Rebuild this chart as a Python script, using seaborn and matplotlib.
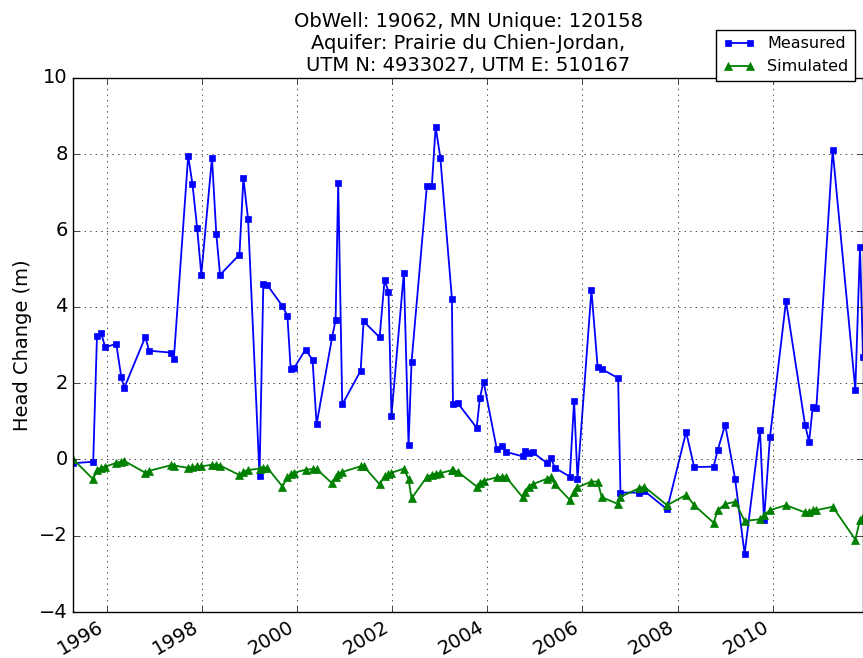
import pandas as pd
import seaborn as sns
import matplotlib
matplotlib.use('Agg')
import matplotlib.pyplot as plt

# observation dates (shared by both series)
dates = ['1995-04-20', '1995-09-20', '1995-10-19', '1995-11-21', '1995-12-21',
         '1996-03-15', '1996-04-23', '1996-05-16', '1996-10-24', '1996-11-22',
         '1997-05-11', '1997-05-31', '1997-09-18', '1997-10-21', '1997-11-26',
         '1997-12-28', '1998-03-20', '1998-04-22', '1998-05-21', '1998-10-17',
         '1998-11-16', '1998-12-22', '1999-03-20', '1999-04-18', '1999-05-19',
         '1999-09-12', '1999-10-20', '1999-11-14', '1999-12-11', '2000-03-07',
         '2000-04-30', '2000-05-31', '2000-09-28', '2000-10-24', '2000-11-13',
         '2000-12-14', '2001-05-04', '2001-05-27', '2001-09-27', '2001-11-04',
         '2001-12-04', '2001-12-27', '2002-04-01', '2002-05-07', '2002-05-30',
         '2002-09-25', '2002-11-02', '2002-12-01', '2003-01-06', '2003-04-05',
         '2003-04-13', '2003-05-19', '2003-10-12', '2003-11-06', '2003-12-04',
         '2004-03-14', '2004-04-23', '2004-05-22', '2004-09-28', '2004-10-18',
         '2004-11-13', '2004-12-14', '2005-04-02', '2005-05-03', '2005-06-03',
         '2005-09-26', '2005-10-29', '2005-11-24', '2006-03-11', '2006-04-28',
         '2006-05-29', '2006-10-02', '2006-10-20', '2007-03-09', '2007-04-19',
         '2007-10-13', '2008-03-07', '2008-05-08', '2008-10-04', '2008-11-06',
         '2009-01-01', '2009-03-18', '2009-05-30', '2009-09-25', '2009-10-26',
         '2009-12-11', '2010-04-13', '2010-09-06', '2010-10-07', '2010-11-04',
         '2010-12-02', '2011-04-06', '2011-09-27', '2011-11-02', '2011-11-25']

measured = [-0.10, -0.06, 3.24, 3.31, 2.94, 3.03, 2.15, 1.88, 3.21, 2.85,
            2.80, 2.62, 7.96, 7.22, 6.07, 4.84, 7.91, 5.91, 4.84, 5.37,
            7.38, 6.30, -0.43, 4.60, 4.57, 4.02, 3.76, 2.38, 2.40, 2.88,
            2.61, 0.92, 3.22, 3.65, 7.25, 1.44, 2.32, 3.62, 3.20, 4.70,
            4.40, 1.15, 4.90, 0.38, 2.55, 7.18, 7.18, 8.72, 7.91, 4.21,
            1.44, 1.48, 0.83, 1.62, 2.04, 0.28, 0.36, 0.20, 0.08, 0.23,
            0.16, 0.19, -0.09, 0.05, -0.22, -0.45, 1.54, -0.52, 4.44, 2.41,
            2.37, 2.13, -0.87, -0.87, -0.82, -1.31, 0.72, -0.20, -0.19, 0.26,
            0.91, -0.51, -2.48, 0.78, -1.59, 0.59, 4.15, 0.91, 0.46, 1.37,
            1.36, 8.11, 1.82, 5.58, 2.69]

simulated = [0.00, -0.52, -0.28, -0.22, -0.19, -0.09, -0.06, -0.04, -0.35, -0.30,
             -0.15, -0.16, -0.22, -0.20, -0.18, -0.18, -0.14, -0.14, -0.16, -0.41,
             -0.32, -0.28, -0.24, -0.22, -0.22, -0.71, -0.47, -0.39, -0.35, -0.27,
             -0.25, -0.25, -0.63, -0.45, -0.37, -0.33, -0.18, -0.18, -0.65, -0.44,
             -0.37, -0.35, -0.24, -0.52, -1.02, -0.46, -0.40, -0.37, -0.36, -0.28,
             -0.29, -0.32, -0.71, -0.61, -0.56, -0.47, -0.45, -0.45, -0.99, -0.85,
             -0.71, -0.65, -0.51, -0.47, -0.65, -1.06, -0.85, -0.73, -0.58, -0.58,
             -0.99, -1.17, -0.98, -0.76, -0.71, -1.20, -0.93, -1.20, -1.66, -1.33,
             -1.17, -1.11, -1.61, -1.57, -1.46, -1.33, -1.20, -1.39, -1.37, -1.33,
             -1.33, -1.24, -2.10, -1.59, -1.50]

title = ("ObWell: 19062, MN Unique: 120158\n"
         "Aquifer: Prairie du Chien-Jordan,\n"
         "UTM N: 4933027, UTM E: 510167")

plt.style.use('classic')
plt.rcParams['font.family'] = ['DejaVu Sans']
plt.rcParams['font.size'] = 14
plt.rcParams['figure.facecolor'] = 'white'
plt.rcParams['savefig.facecolor'] = 'white'

dates = pd.to_datetime(dates)

fig = plt.figure(figsize=(8.63, 6.58), dpi=100)
ax = fig.add_axes([0.0849, 0.0699, 0.9151, 0.8116])

sns.lineplot(x=dates, y=measured, ax=ax, color='b', marker='s', markersize=4.5,
             markeredgecolor='b', markeredgewidth=0.5, linewidth=1.3,
             label='Measured')
sns.lineplot(x=dates, y=simulated, ax=ax, color='g', marker='^', markersize=5.5,
             markeredgecolor='g', markeredgewidth=0.5, linewidth=1.3,
             label='Simulated')

ax.set_xlim(dates.min(), dates.max())
ax.set_ylim(-4, 10)
ax.set_xlabel('')
ax.set_ylabel('Head Change (m)')
ax.set_title(title, fontsize=14)
ax.grid(True)

for lbl in ax.get_xticklabels():
    lbl.set_rotation(30)
    lbl.set_ha('right')

ax.legend(loc='upper right', bbox_to_anchor=(0.990, 1.090), borderaxespad=0,
          fontsize=11.5, numpoints=2)

fig.savefig('out.png', dpi=100)
